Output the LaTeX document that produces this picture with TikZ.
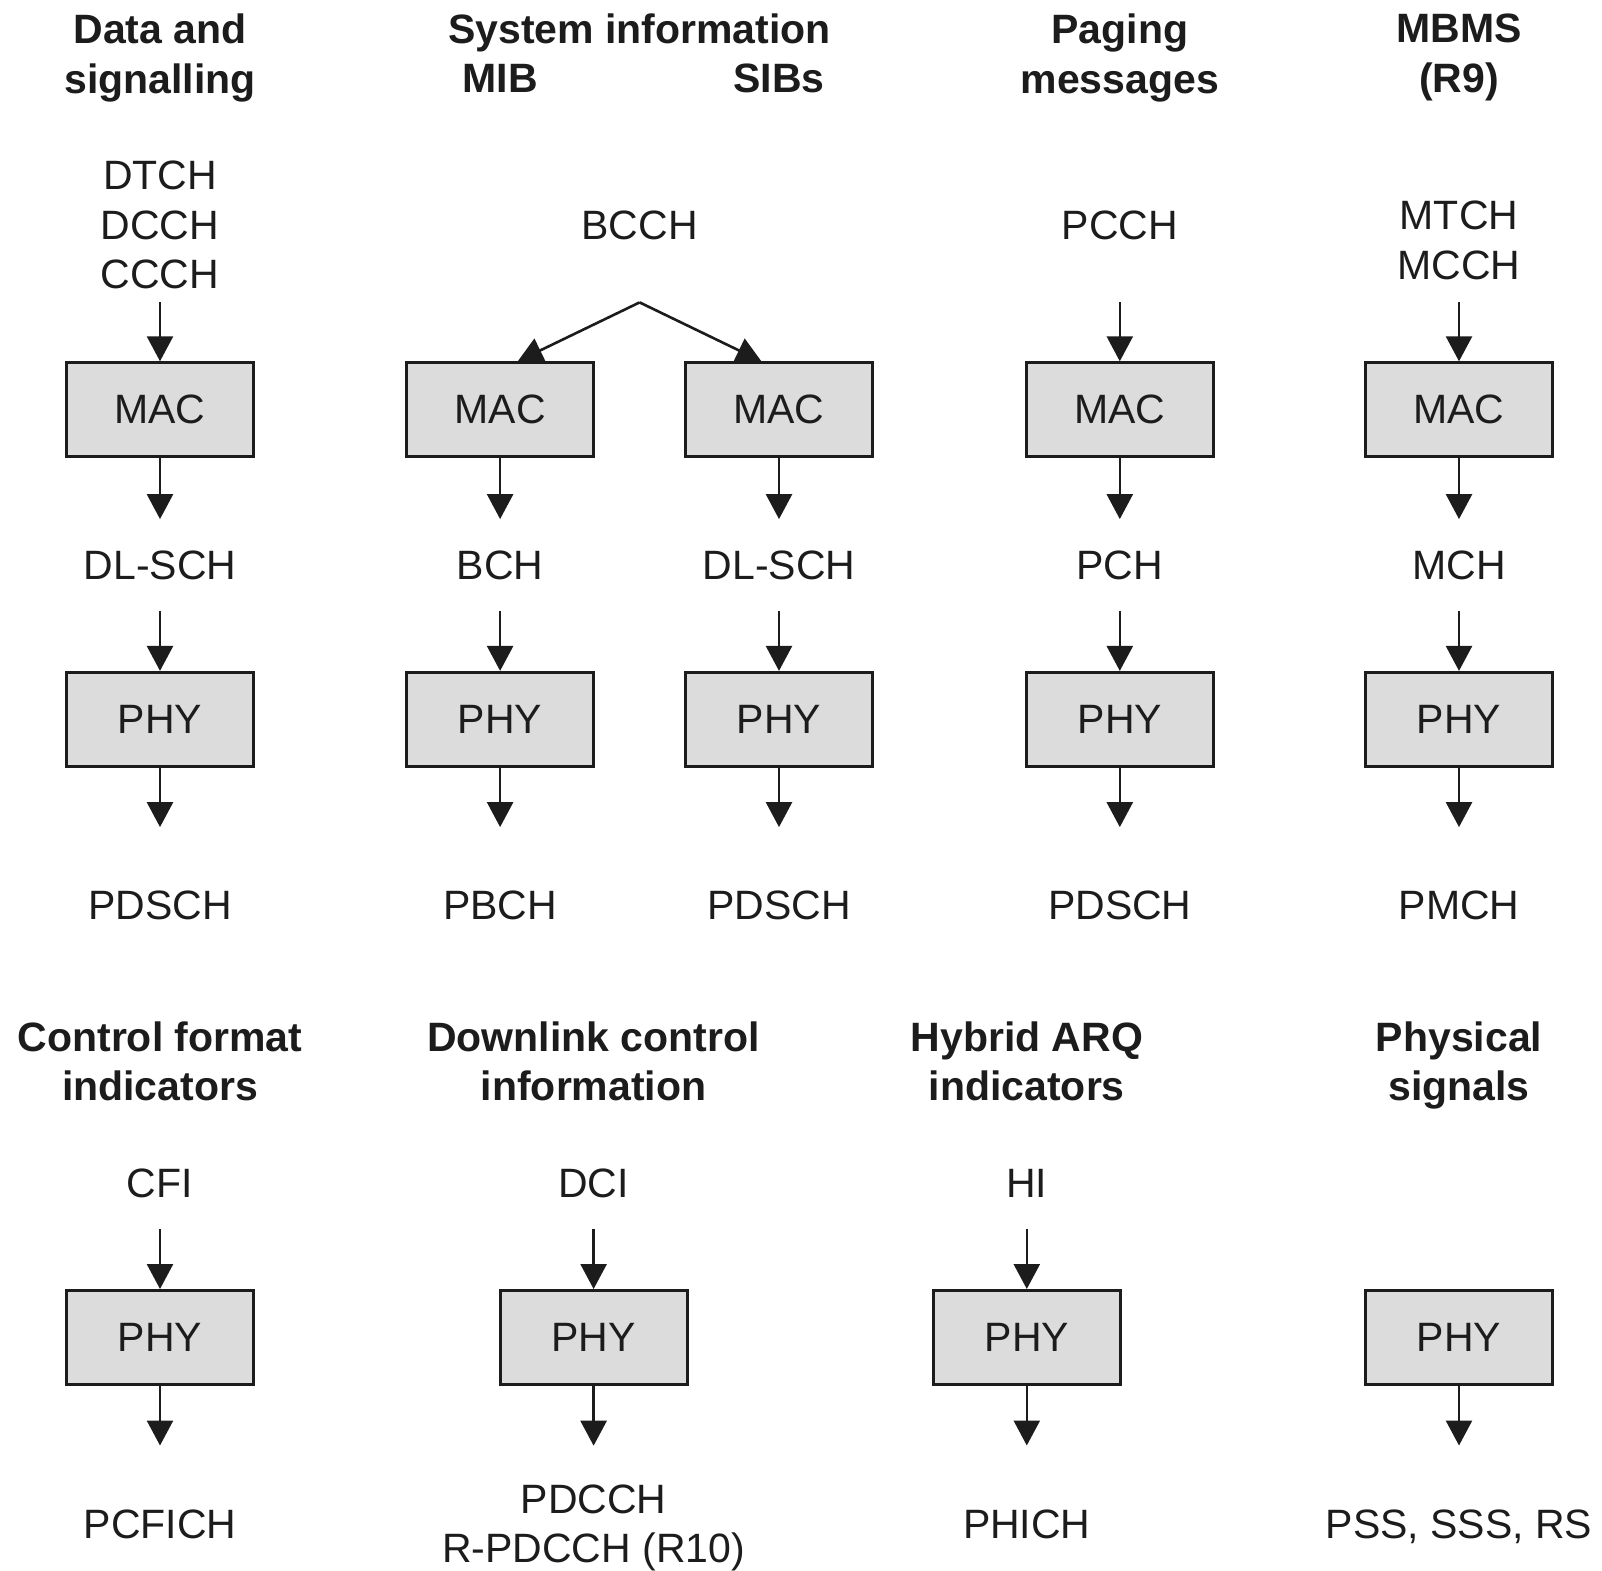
\documentclass[tikz,border=0pt]{standalone}
\usepackage{fontspec}
\setmainfont{Liberation Sans}
\usetikzlibrary{arrows.meta}
\definecolor{boxfill}{RGB}{220,220,220}
\definecolor{ink}{RGB}{28,28,28}
\begin{document}
\begin{tikzpicture}[x=1pt,y=-1pt,
  txt/.style={font=\fontsize{41}{49.5}\selectfont, text=ink, inner sep=0pt, align=center},
  head/.style={txt, font=\fontsize{41}{49.5}\selectfont\bfseries},
  chan/.style={font=\fontsize{41}{49.5}\selectfont, text=ink, text height=29.4pt, text depth=0pt,
               inner xsep=0pt, inner ysep=31pt},
  layer/.style={draw=ink, fill=boxfill, line width=2.8pt, minimum width=187pt, minimum height=94pt,
                inner sep=0pt, font=\fontsize{41}{49.5}\selectfont, text=ink},
  arr/.style={-{Triangle[length=25pt,width=26pt]}, line width=2.6pt, draw=ink},
  toout/.style={arr, shorten >=32pt}]
\useasboundingbox (0,0) rectangle (1602,1570);

% ---------- upper row: headings ----------
\node[head, anchor=north] (hdata) at (160,14) {Data and\\signalling};
\node[head, anchor=base]  (hsys)  at (639.6,43.3) {System information};
\node[head, anchor=base]  (hmib)  at (500.1,92.8) {MIB};
\node[head, anchor=base]  (hsib)  at (779,92.8) {SIBs};
\node[head, anchor=north] (hpage) at (1119.8,14) {Paging\\messages};
\node[head, anchor=north] (hmbms) at (1459,14) {MBMS\\(R9)};

% ---------- logical channels ----------
\node[txt, anchor=north] (lcdata) at (160,161) {DTCH\\DCCH\\CCCH};
\node[txt, anchor=base]  (bcch)   at (639.6,239.5) {BCCH};
\node[txt, anchor=base]  (pcch)   at (1119.8,239.5) {PCCH};
\node[txt, anchor=north] (lcmbms) at (1459,201) {MTCH\\MCCH};

\coordinate (dataIn)    at (160,302.4);
\coordinate (bcchSplit) at (639.6,302.4);
\coordinate (pcchIn)    at (1119.8,302.4);
\coordinate (mbmsIn)    at (1459,302.4);

% ---------- MAC layer ----------
\node[layer] (macA) at (160,409.7)   {MAC};
\node[layer] (macB) at (500.1,409.7) {MAC};
\node[layer] (macC) at (779,409.7)   {MAC};
\node[layer] (macD) at (1119.8,409.7){MAC};
\node[layer] (macE) at (1459,409.7)  {MAC};

% ---------- transport channels ----------
\node[chan] (dlschA) at (160,565)   {DL-SCH};
\node[chan] (bch)    at (500.1,565) {BCH};
\node[chan] (dlschC) at (779,565)   {DL-SCH};
\node[chan] (pch)    at (1119.8,565){PCH};
\node[chan] (mch)    at (1459,565)  {MCH};

% ---------- PHY layer ----------
\node[layer] (phyA) at (160,719.3)   {PHY};
\node[layer] (phyB) at (500.1,719.3) {PHY};
\node[layer] (phyC) at (779,719.3)   {PHY};
\node[layer] (phyD) at (1119.8,719.3){PHY};
\node[layer] (phyE) at (1459,719.3)  {PHY};

% ---------- physical channels ----------
\node[chan] (pdschA) at (160,905)   {PDSCH};
\node[chan] (pbch)   at (500.1,905) {PBCH};
\node[chan] (pdschC) at (779,905)   {PDSCH};
\node[chan] (pdschD) at (1119.8,905){PDSCH};
\node[chan] (pmch)   at (1459,905)  {PMCH};

% ---------- upper row: connectors ----------
\draw[arr] (dataIn) -- (macA.north);
\draw[arr] (bcchSplit) -- (macB.70);
\draw[arr] (bcchSplit) -- (macC.110);
\draw[arr] (pcchIn) -- (macD.north);
\draw[arr] (mbmsIn) -- (macE.north);

\foreach \m/\t/\p/\o in {macA/dlschA/phyA/pdschA, macB/bch/phyB/pbch, macC/dlschC/phyC/pdschC,
                         macD/pch/phyD/pdschD, macE/mch/phyE/pmch}{
  \draw[arr] (\m.south) -- (\t.north);
  \draw[arr] (\t.south) -- (\p.north);
  \draw[toout] (\p.south) -- (\o.north);
}

% ---------- lower row: headings ----------
\node[head, anchor=north] (hcfi)  at (160,1021.5)    {Control format\\indicators};
\node[head, anchor=north] (hdci)  at (593.6,1021.5)  {Downlink control\\information};
\node[head, anchor=north] (hhi)   at (1026.8,1021.5) {Hybrid ARQ\\indicators};
\node[head, anchor=north] (hphys) at (1459,1021.5)   {Physical\\signals};

% ---------- control information ----------
\node[txt, anchor=base] (cfi) at (160,1197.8)    {CFI};
\node[txt, anchor=base] (dci) at (593.6,1197.8)  {DCI};
\node[txt, anchor=base] (hi)  at (1026.8,1197.8) {HI};

\coordinate (cfiIn) at (160,1229.1);
\coordinate (dciIn) at (593.6,1229.1);
\coordinate (hiIn)  at (1026.8,1229.1);

% ---------- PHY layer ----------
\node[layer] (phyCfi) at (160,1337.4)    {PHY};
\node[layer] (phyDci) at (593.6,1337.4)  {PHY};
\node[layer] (phyHi)  at (1026.8,1337.4) {PHY};
\node[layer] (phySig) at (1459,1337.4)   {PHY};

% ---------- physical channels and signals ----------
\node[chan] (pcfich) at (160,1523.4) {PCFICH};
\node[txt, anchor=north] (pdcch) at (593.6,1484.3) {PDCCH\\R-PDCCH (R10)};
\node[chan] (phich) at (1026.8,1523.4) {PHICH};
\node[chan] (psig)  at (1459,1523.4)   {PSS, SSS, RS};

% ---------- lower row: connectors ----------
\draw[arr] (cfiIn) -- (phyCfi.north);
\draw[arr] (dciIn) -- (phyDci.north);
\draw[arr] (hiIn)  -- (phyHi.north);

\draw[toout] (phyCfi.south) -- (pcfich.north);
\draw[arr, shorten >=38.6pt] (phyDci.south) -- (pdcch.north);
\draw[toout] (phyHi.south) -- (phich.north);
\draw[toout] (phySig.south) -- (psig.north);
\end{tikzpicture}
\end{document}
